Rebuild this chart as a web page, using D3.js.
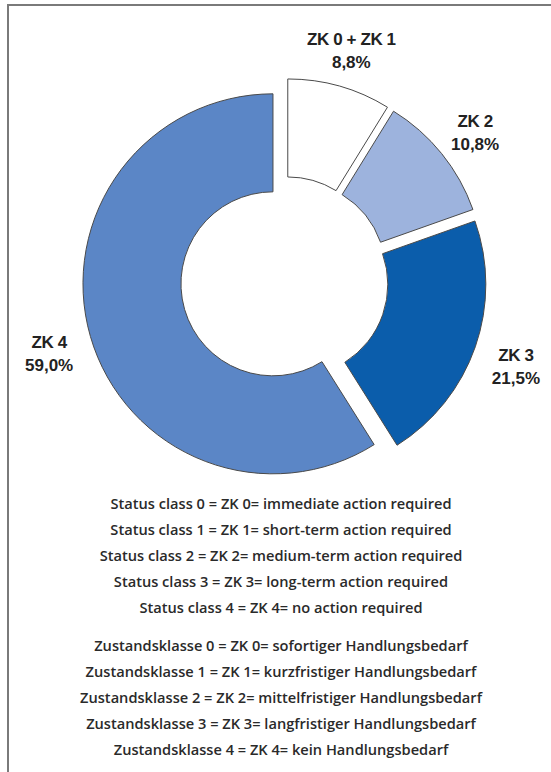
<!DOCTYPE html>
<html>
<head>
<meta charset="utf-8">
<script src="https://cdn.jsdelivr.net/npm/d3@7"></script>
<style>
  html, body { margin: 0; padding: 0; background: #fff; }
  svg { display: block; }
</style>
</head>
<body>
<svg id="chart" width="551" height="772"></svg>
<script>
// ---- data ----
const categories = ["ZK 0 + ZK 1", "ZK 2", "ZK 3", "ZK 4"];
const values = [8.8, 10.8, 21.5, 59.0];
const valueLabels = ["8,8%", "10,8%", "21,5%", "59,0%"];
const sliceColors = ["#ffffff", "#9db3dd", "#0b5dab", "#5b86c6"];
const legendEnglish = [
  "Status class 0 = ZK 0= immediate action required",
  "Status class 1 = ZK 1= short-term action required",
  "Status class 2 = ZK 2= medium-term action required",
  "Status class 3 = ZK 3= long-term action required",
  "Status class 4 = ZK 4= no action required"
];
const legendGerman = [
  "Zustandsklasse 0 = ZK 0= sofortiger Handlungsbedarf",
  "Zustandsklasse 1 = ZK 1= kurzfristiger Handlungsbedarf",
  "Zustandsklasse 2 = ZK 2= mittelfristiger Handlungsbedarf",
  "Zustandsklasse 3 = ZK 3= langfristiger Handlungsbedarf",
  "Zustandsklasse 4 = ZK 4= kein Handlungsbedarf"
];

// ---- layout ----
const svg = d3.select("#chart");
const cx = 284.5, cy = 280.5;
const outerR = 190, innerR = 92, explode = 12, labelR = 245;

// frame
svg.append("rect")
  .attr("x", 8).attr("y", 5)
  .attr("width", 560).attr("height", 790)
  .attr("fill", "none")
  .attr("stroke", "#7a7a7a")
  .attr("stroke-width", 2);

const pie = d3.pie().sort(null).value(d => d.value);
const data = categories.map((c, i) => ({ name: c, value: values[i], label: valueLabels[i], color: sliceColors[i] }));
const arcs = pie(data);
const arc = d3.arc().innerRadius(innerR).outerRadius(outerR);
const labelArc = d3.arc().innerRadius(labelR).outerRadius(labelR);

const g = svg.append("g").attr("transform", `translate(${cx},${cy})`);

g.selectAll("path.slice")
  .data(arcs)
  .join("path")
  .attr("class", "slice")
  .attr("d", arc)
  .attr("transform", d => {
    const m = (d.startAngle + d.endAngle) / 2;
    return `translate(${explode * Math.sin(m)},${-explode * Math.cos(m)})`;
  })
  .attr("fill", d => d.data.color)
  .attr("stroke", "#4a4a4a")
  .attr("stroke-width", 1);

const labels = g.selectAll("g.lab")
  .data(arcs)
  .join("g")
  .attr("class", "lab")
  .attr("transform", d => {
    const [x, y] = labelArc.centroid(d);
    return `translate(${x},${y + 3})`;
  });

labels.append("text")
  .attr("text-anchor", "middle")
  .attr("y", -3)
  .attr("font-family", "Liberation Sans, Arial, sans-serif")
  .attr("font-weight", "bold")
  .attr("font-size", 17)
  .attr("letter-spacing", -0.4)
  .attr("fill", "#222")
  .text(d => d.data.name);

labels.append("text")
  .attr("text-anchor", "middle")
  .attr("y", 20)
  .attr("font-family", "Liberation Sans, Arial, sans-serif")
  .attr("font-weight", "bold")
  .attr("font-size", 17)
  .attr("fill", "#222")
  .text(d => d.data.label);

// legend text
const legendX = 281;
const legendStyle = sel => sel
  .attr("x", legendX)
  .attr("text-anchor", "middle")
  .attr("font-family", "Open Sans, Lato, sans-serif")
  .attr("font-weight", 600)
  .attr("font-size", 14)
  .attr("fill", "#2a2a2a");

const enBase = 509, deBase = 651, step = 26;
const en = svg.append("g").selectAll("text")
  .data(legendEnglish)
  .join("text")
  .call(legendStyle)
  .attr("y", (d, i) => enBase + i * step)
  .text(d => d);

const de = svg.append("g").selectAll("text")
  .data(legendGerman)
  .join("text")
  .call(legendStyle)
  .attr("y", (d, i) => deBase + i * step)
  .text(d => d);

// fit legend font so the widest German line is ~402px, like the reference
const widest = d3.max(de.nodes(), n => n.getComputedTextLength());
if (widest > 0) {
  const fs = 14 * 402 / widest;
  en.attr("font-size", fs);
  de.attr("font-size", fs);
}
</script>
</body>
</html>
